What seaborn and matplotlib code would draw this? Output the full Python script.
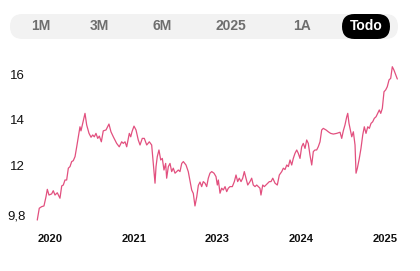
import numpy as np
import pandas as pd
import seaborn as sns
import matplotlib
matplotlib.use("Agg")
import matplotlib.pyplot as plt
from matplotlib.patches import FancyBboxPatch

sns.set_theme(style="white")
plt.rcParams['font.family'] = ['Liberation Sans', 'DejaVu Sans']

# ---- data ----
range_buttons = ["1M", "3M", "6M", "2025", "1A", "Todo"]
active_button = "Todo"

x_tick_labels = ["2020", "2021", "2023", "2024", "2025"]
y_ticks = [9.8, 12, 14, 16]
y_tick_labels = ["9,8", "12", "14", "16"]

# time position of each sample, in units of the (evenly spaced) year labels
t = [-0.152, -0.128, -0.099, -0.072, -0.048, -0.032, -0.012, 0.020, 0.039, 0.060,
     0.087, 0.119, 0.140, 0.159, 0.179, 0.199, 0.219, 0.239, 0.259, 0.278,
     0.299, 0.319, 0.338, 0.358, 0.370, 0.390, 0.418, 0.438, 0.466, 0.490,
     0.510, 0.529, 0.549, 0.570, 0.589, 0.613, 0.636, 0.669, 0.704, 0.728,
     0.756, 0.796, 0.827, 0.856, 0.875, 0.896, 0.916, 0.947, 0.964, 0.979,
     1.003, 1.027, 1.054, 1.075, 1.102, 1.126, 1.155, 1.186, 1.214, 1.233,
     1.254, 1.266, 1.281, 1.301, 1.322, 1.341, 1.361, 1.381, 1.393, 1.413,
     1.433, 1.453, 1.472, 1.493, 1.513, 1.532, 1.552, 1.573, 1.592, 1.624,
     1.651, 1.672, 1.692, 1.711, 1.731, 1.752, 1.771, 1.791, 1.811, 1.830,
     1.851, 1.871, 1.890, 1.910, 1.931, 1.958, 1.982, 1.998, 2.010, 2.030,
     2.050, 2.069, 2.090, 2.110, 2.129, 2.149, 2.177, 2.201, 2.221, 2.241,
     2.260, 2.281, 2.301, 2.320, 2.340, 2.361, 2.388, 2.408, 2.427, 2.448,
     2.468, 2.487, 2.507, 2.519, 2.540, 2.559, 2.579, 2.600, 2.619, 2.639,
     2.660, 2.687, 2.714, 2.738, 2.767, 2.786, 2.806, 2.827, 2.846, 2.866,
     2.886, 2.905, 2.925, 2.946, 2.965, 2.985, 3.005, 3.024, 3.045, 3.065,
     3.084, 3.104, 3.125, 3.144, 3.164, 3.184, 3.203, 3.224, 3.244, 3.263,
     3.296, 3.323, 3.351, 3.383, 3.423, 3.463, 3.483, 3.502, 3.522, 3.543,
     3.555, 3.570, 3.582, 3.603, 3.622, 3.642, 3.654, 3.670, 3.693, 3.713,
     3.734, 3.753, 3.773, 3.794, 3.813, 3.833, 3.853, 3.872, 3.893, 3.913,
     3.932, 3.949, 3.968, 3.988, 4.008, 4.027, 4.048, 4.068, 4.087, 4.107,
     4.128, 4.147]

price = [9.58, 10.10, 10.17, 10.20, 10.60, 10.93, 10.68, 10.73, 10.87, 10.68,
         10.78, 10.54, 11.08, 11.12, 11.34, 11.34, 11.86, 11.93, 12.15, 12.19,
         12.37, 12.80, 13.24, 13.68, 13.50, 13.83, 14.27, 13.76, 13.39, 13.22,
         13.32, 13.24, 13.39, 13.17, 13.27, 13.02, 13.50, 13.54, 13.80, 13.46,
         13.24, 12.95, 12.80, 13.02, 12.95, 13.02, 12.80, 13.39, 13.24, 13.46,
         13.71, 13.54, 13.10, 12.88, 13.17, 13.17, 12.88, 13.02, 12.88, 12.07,
         11.20, 11.93, 12.37, 12.66, 12.22, 12.29, 11.78, 12.07, 11.42, 11.93,
         12.07, 11.71, 11.86, 11.64, 11.71, 11.78, 11.71, 12.07, 12.15, 12.00,
         11.71, 11.30, 10.90, 10.75, 10.20, 10.60, 11.10, 11.25, 11.05, 11.27,
         11.20, 11.05, 11.42, 11.64, 11.71, 11.64, 11.49, 11.12, 11.34, 10.76,
         10.98, 10.90, 11.05, 10.83, 10.98, 11.05, 11.05, 11.27, 11.56, 11.27,
         11.42, 11.27, 11.42, 11.71, 11.42, 11.12, 11.27, 11.42, 11.12, 11.05,
         11.12, 11.05, 10.98, 10.68, 11.12, 11.05, 11.12, 11.20, 11.27, 11.27,
         11.42, 11.20, 11.12, 11.56, 11.71, 11.86, 11.80, 12.00, 11.93, 12.22,
         12.00, 12.29, 12.51, 12.66, 12.51, 12.29, 12.80, 12.95, 12.73, 13.10,
         12.95, 12.44, 12.00, 12.59, 12.66, 12.66, 12.80, 13.02, 13.54, 13.61,
         13.54, 13.46, 13.39, 13.36, 13.39, 13.44, 13.17, 13.50, 13.76, 14.12,
         14.27, 13.83, 13.61, 13.24, 13.46, 12.88, 11.64, 11.86, 12.29, 12.73,
         13.32, 13.68, 13.39, 13.68, 13.61, 13.83, 13.90, 14.05, 14.12, 14.27,
         14.42, 14.27, 14.49, 15.22, 15.30, 15.44, 15.74, 15.81, 16.32, 16.17,
         15.96, 15.78]

df = pd.DataFrame({"t": t, "price": price})

W, H = 420, 271
fig = plt.figure(figsize=(W / 100, H / 100), dpi=100)

# background layer in pixel coordinates for the range selector
bg = fig.add_axes([0, 0, 1, 1], zorder=0)
bg.set_xlim(0, W)
bg.set_ylim(H, 0)
bg.axis("off")
bg.add_patch(FancyBboxPatch((10, 14), 388, 25,
                            boxstyle="round,pad=0,rounding_size=12.5",
                            fc="#f2f2f2", ec="none"))
btn_x = [41, 99, 162, 231, 302, 366]
for label, bx in zip(range_buttons, btn_x):
    if label == active_button:
        bg.add_patch(FancyBboxPatch((342, 14), 48, 25,
                                    boxstyle="round,pad=0,rounding_size=12.5",
                                    fc="#000000", ec="none"))
        bg.text(bx, 26.5, label, ha="center", va="center", fontsize=10,
                fontweight="bold", color="white")
    else:
        bg.text(bx, 26.5, label, ha="center", va="center", fontsize=10,
                fontweight="bold", color="#6e6e6e")

# main chart
ax = fig.add_axes([35 / W, 1 - 228 / H, 365 / W, 168 / H], zorder=1)
ax.patch.set_alpha(0)
sns.lineplot(data=df, x="t", y="price", ax=ax, color="#e2507f",
             linewidth=0.9, estimator=None, sort=False)
ax.set_xlim(-0.179, 4.179)
ax.set_ylim(16 - (228 - 74) / 22.75, 16 + (74 - 60) / 22.75)
ax.set_xticks(range(len(x_tick_labels)))
ax.set_xticklabels(x_tick_labels, fontsize=8, fontweight="bold", color="#111111")
ax.set_yticks(y_ticks)
ax.set_yticklabels(y_tick_labels, fontsize=9.5, color="#111111")
ax.tick_params(axis="x", length=0, pad=4.5)
ax.tick_params(axis="y", length=0, pad=7)
ax.set_xlabel("")
ax.set_ylabel("")
for s in ax.spines.values():
    s.set_visible(False)
ax.grid(False)

fig.savefig("out.png", dpi=100)
